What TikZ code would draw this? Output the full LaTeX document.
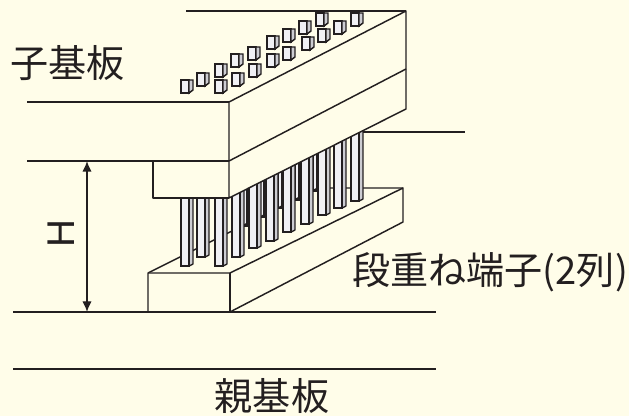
\documentclass[tikz,border=0pt]{standalone}
\usepackage{fontspec}
\newfontfamily\cjk{Noto Sans CJK JP}
\setmainfont{Liberation Sans}
\definecolor{bgcol}{RGB}{255,253,233}
\definecolor{ink}{RGB}{35,31,32}
\definecolor{pinface}{RGB}{240,240,244}
\definecolor{pinside}{RGB}{205,205,210}
\usetikzlibrary{arrows.meta}
\tikzset{
  edge/.style={draw=ink,line width=1.1pt,line join=round},
  label/.style={text=ink,inner sep=0pt,font=\cjk\fontsize{28.6}{28.6}\selectfont},
  dim/.style={draw=ink,line width=1pt,{Latex[length=8pt,width=7pt]}-{Latex[length=8pt,width=7pt]}}
}
% pin: left x, width, bottom y
\newcommand{\pinat}[3]{%
  \fill[pinface] (#1,40) rectangle ({#1+#2*0.68},#3);
  \fill[pinside] ({#1+#2*0.68},40) rectangle ({#1+#2},{#3-1});
  \draw[ink,line width=1.4pt] (#1,40) -- (#1,#3) -- ({#1+#2*0.68},#3) -- ({#1+#2*0.68},40);
  \draw[ink,line width=1pt] ({#1+#2*0.68},#3) -- ({#1+#2},{#3-2}) -- ({#1+#2},40);
}
% pad: left x, top y
\newcommand{\padat}[2]{%
  \draw[ink,line width=1.1pt,fill=pinface] (#1,#2) rectangle ({#1+8},{#2+13});
  \draw[ink,line width=1.1pt,fill=pinside] ({#1+8},#2) -- ({#1+12},{#2}) -- ({#1+12},{#2+10}) -- ({#1+8},{#2+13}) -- cycle;
}
\begin{document}
\begin{tikzpicture}[x=0.75pt,y=-0.75pt]
\path[use as bounding box,fill=bgcol] (0,0) rectangle (629,416);
\coordinate (bl) at (148,273); \coordinate (bb) at (148,312);
\coordinate (bf) at (230,273); \coordinate (bfb) at (230,312);
\coordinate (br) at (403,188); \coordinate (brb) at (403,222);
\coordinate (bk) at (318,188);
% rear row pins
\foreach \x/\b in {243/226,260/217,278/208,295/200,313/191}{\pinat{\x}{6}{\b}}
% base block rear outline
\draw[edge] (bl) -- (bk) -- (br);
% front pins
\foreach \x/\b in {181/266,197/257,215/266,232/257,249/248,266/241,283/232,301/224,318/215,334/208,351/201}{\pinat{\x}{12}{\b}}
% base block
\fill[bgcol] (bl) -- (bf) -- (br) -- (brb) -- (bfb) -- (bb) -- cycle;
\draw[edge] (bl) -- (bf) -- (br) -- (brb) -- (bfb) -- (bb) -- cycle;
\draw[edge] (bf) -- (bfb);
% upper board (covers pin tops)
\coordinate (tf) at (229,102); \coordinate (tb) at (406,11);
\coordinate (mf) at (229,161); \coordinate (mb) at (406,69);
\coordinate (cf) at (229,198); \coordinate (cb) at (406,109);
\coordinate (cl) at (153,161); \coordinate (clb) at (153,198);
\fill[bgcol] (0,0) -- (406,0) -- (cb) -- (cf) -- (clb) -- (0,198) -- cycle;
\draw[edge] (tf) -- (tb) -- (cb) -- (cf) -- (tf);
\draw[edge] (mf) -- (mb);
\draw[edge] (cl) -- (clb) -- (cf);
\coordinate (tl) at (186,11);
\draw[edge] (tl) -- (tb);
\coordinate (bdl) at (27,102); \draw[edge] (bdl) -- (tf);
\coordinate (mdl) at (27,161); \draw[edge] (mdl) -- (mf);
\coordinate (lead) at (465,132); \coordinate (leads) at (363,132); \draw[edge] (leads) -- (lead);
% pads
\foreach \x/\y in {181/80,197/73,215/64,215/80,231/54,232/73,248/47,249/64,267/36,267/54,283/29,283/47,299/21,302/37,316/13,318/29,334/21,351/13}{\padat{\x}{\y}}
% parent board lines
\coordinate (fl) at (13,312); \coordinate (fr) at (436,312);
\draw[edge] (fl) -- (fr);
\coordinate (pl) at (13,369); \coordinate (pr) at (436,369);
\draw[edge] (pl) -- (pr);
% dimension
\coordinate (du) at (87,161); \coordinate (dd) at (87,312);
\draw[dim] (du) -- (dd);
% labels
\node[label,anchor=west] (child) at (10,63) {子基板};
\node[label] (parent) at (272,396) {親基板};
\node[label,anchor=west] (term) at (352,272) {段重ね端子(2列)};
\node[text=ink,inner sep=0pt,font=\fontsize{29}{29}\selectfont,rotate=90] (h) at (61,234) {H};
\end{tikzpicture}
\end{document}
